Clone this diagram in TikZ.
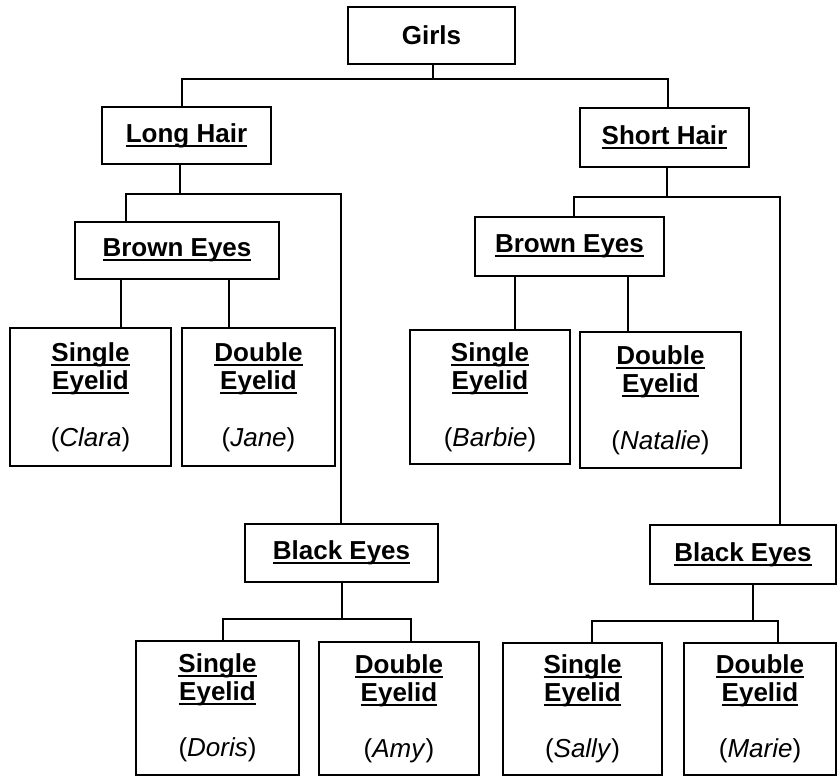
\documentclass[tikz,border=0pt]{standalone}
\usepackage{fontspec}
\setmainfont{Liberation Sans}
\newcommand\myul[1]{\setbox0=\hbox{#1}\rlap{\rule[-4.5pt]{\wd0}{2pt}}\box0}
\newcommand\kid[1]{{\mdseries(\textit{#1})}}
\begin{document}
\begin{tikzpicture}[x=1pt,y=-1pt,
  box/.style={draw, line width=2pt, inner sep=0pt, align=center,
    font=\fontsize{26}{28}\selectfont\bfseries},
  conn/.style={line width=2pt}]
\useasboundingbox (0,0) rectangle (838,776);
% level 0
\node[box, minimum width=167pt, minimum height=57pt] (girls) at (431.5,35.5) {Girls};
% level 1
\node[box, minimum width=169pt, minimum height=57pt] (long) at (186.5,135.5) {\myul{Long Hair}};
\node[box, minimum width=169pt, minimum height=59pt] (short) at (664.5,137.5) {\myul{Short Hair}};
% level 2
\node[box, minimum width=204pt, minimum height=57pt] (brownl) at (177,250.5) {\myul{Brown Eyes}};
\node[box, minimum width=189pt, minimum height=59pt] (brownr) at (569.5,246.5) {\myul{Brown Eyes}};
% eyelid boxes under brown eyes
\node[box, minimum width=161pt, minimum height=138pt] (clara) at (90.5,397) {\myul{Single}\\\myul{Eyelid}\\[29pt]\kid{Clara}};
\node[box, minimum width=153pt, minimum height=138pt] (jane) at (258.5,397) {\myul{Double}\\\myul{Eyelid}\\[29pt]\kid{Jane}};
\node[box, minimum width=160pt, minimum height=134pt] (barbie) at (490,397) {\myul{Single}\\\myul{Eyelid}\\[29pt]\kid{Barbie}};
\node[box, minimum width=161pt, minimum height=136pt] (natalie) at (660.5,400) {\myul{Double}\\\myul{Eyelid}\\[29pt]\kid{Natalie}};
% black eyes
\node[box, minimum width=193pt, minimum height=58pt] (blackl) at (341.5,553) {\myul{Black Eyes}};
\node[box, minimum width=186pt, minimum height=59pt] (blackr) at (743,554.5) {\myul{Black Eyes}};
% eyelid boxes under black eyes
\node[box, minimum width=163pt, minimum height=134pt] (doris) at (217.5,708) {\myul{Single}\\\myul{Eyelid}\\[28pt]\kid{Doris}};
\node[box, minimum width=160pt, minimum height=133pt] (amy) at (399,708.5) {\myul{Double}\\\myul{Eyelid}\\[28pt]\kid{Amy}};
\node[box, minimum width=159pt, minimum height=132pt] (sally) at (582.5,709) {\myul{Single}\\\myul{Eyelid}\\[28pt]\kid{Sally}};
\node[box, minimum width=152pt, minimum height=132pt] (marie) at (760,709) {\myul{Double}\\\myul{Eyelid}\\[28pt]\kid{Marie}};

% connectors
\coordinate (jg) at (433,79);
\draw[conn] ([xshift=1.5pt]girls.south) -- (jg);
\draw[conn] ([xshift=-4.5pt]long.north) |- (jg) -| ([xshift=3.5pt]short.north);

\coordinate (jl) at (180,194);
\draw[conn] ([xshift=-6.5pt]long.south) -- (jl);
\draw[conn] ([xshift=-51pt]brownl.north) |- (jl) -| ([xshift=-0.5pt]blackl.north);

\coordinate (js) at (667,197);
\draw[conn] ([xshift=2.5pt]short.south) -- (js);
\draw[conn] ([xshift=4.5pt]brownr.north) |- (js) -| ([xshift=37pt]blackr.north);

\coordinate (c1) at ([xshift=30.5pt]clara.north);
\coordinate (c2) at ([xshift=-29.5pt]jane.north);
\coordinate (c3) at ([xshift=25pt]barbie.north);
\coordinate (c4) at ([xshift=-32.5pt]natalie.north);
\draw[conn] (c1) -- (c1 |- brownl.south);
\draw[conn] (c2) -- (c2 |- brownl.south);
\draw[conn] (c3) -- (c3 |- brownr.south);
\draw[conn] (c4) -- (c4 |- brownr.south);

\coordinate (jbl) at (342,619);
\draw[conn] ([xshift=0.5pt]blackl.south) -- (jbl);
\draw[conn] ([xshift=5.5pt]doris.north) |- (jbl) -| ([xshift=12pt]amy.north);

\coordinate (jbr) at (753,621);
\draw[conn] ([xshift=10pt]blackr.south) -- (jbr);
\draw[conn] ([xshift=9.5pt]sally.north) |- (jbr) -| ([xshift=18pt]marie.north);
\end{tikzpicture}
\end{document}
